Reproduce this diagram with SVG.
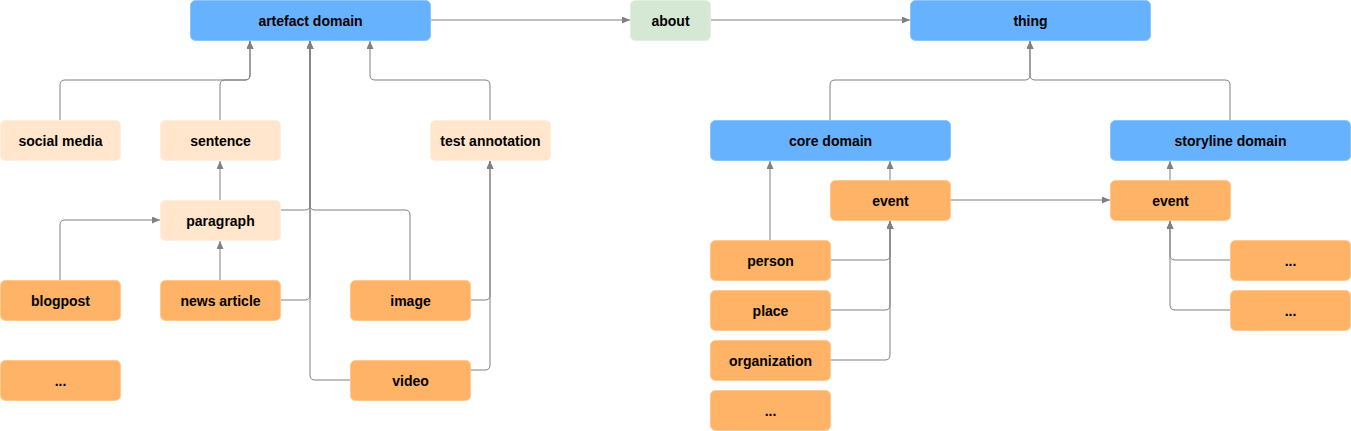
<svg xmlns="http://www.w3.org/2000/svg" width="1351" height="431" viewBox="0 0 1351 431">
<style>
.n rect{rx:5;ry:5;stroke-width:1}
.blue rect{fill:#66b2ff;stroke:#8cc4ff}
.green rect{fill:#d5e8d4;stroke:#e2efe1}
.light rect{fill:#ffe6cc;stroke:#ffeedd}
.orange rect{fill:#ffb366;stroke:#ffc98f}
.n text{font-family:"Liberation Sans",Arial,sans-serif;font-weight:bold;font-size:14px;fill:#000;text-anchor:middle}
#connectors path{fill:none;stroke:#808080;stroke-width:1;marker-end:url(#arr)}
</style>
<defs>
<marker id="arr" markerUnits="userSpaceOnUse" markerWidth="9" markerHeight="8" refX="8" refY="3.5" orient="auto">
<path d="M0,0 L8,3.5 L0,7 z" fill="#808080"/>
</marker>
</defs>
<rect width="1351" height="431" fill="#fff"/>
<g id="connectors">
<path d="M430,20 H630"/>
<path d="M710,20 H910"/>
<path d="M60,120 V85 Q60,80 65,80 H245 Q250,80 250,75 V41"/>
<path d="M220,120 V85 Q220,80 225,80 H245 Q250,80 250,75 V41"/>
<path d="M490,120 V85 Q490,80 485,80 H375 Q370,80 370,75 V41"/>
<path d="M280,210 H305 Q310,210 310,205 V41"/>
<path d="M410,280 V215 Q410,210 405,210 H315 Q310,210 310,205 V41"/>
<path d="M280,300 H305 Q310,300 310,295 V41"/>
<path d="M350,380 H315 Q310,380 310,375 V41"/>
<path d="M470,300 H485 Q490,300 490,295 V161"/>
<path d="M470,370 H485 Q490,370 490,365 V161"/>
<path d="M60,280 V225 Q60,220 65,220 H160"/>
<path d="M220,280 V241"/>
<path d="M220,200 V161"/>
<path d="M830,120 V85 Q830,80 835,80 H1025 Q1030,80 1030,75 V41"/>
<path d="M1230,120 V85 Q1230,80 1225,80 H1035 Q1030,80 1030,75 V41"/>
<path d="M890,180 V161"/>
<path d="M770,240 V161"/>
<path d="M830,260 H885 Q890,260 890,255 V221"/>
<path d="M830,310 H885 Q890,310 890,305 V221"/>
<path d="M830,360 H885 Q890,360 890,355 V221"/>
<path d="M950,200 H1110"/>
<path d="M1170,180 V161"/>
<path d="M1230,260 H1175 Q1170,260 1170,255 V221"/>
<path d="M1230,310 H1175 Q1170,310 1170,305 V221"/>
</g>
<g id="artefact-domain" class="n blue"><rect x="190.5" y="0.5" width="240" height="40"/><text x="310.5" y="25.5">artefact domain</text></g>
<g id="about" class="n green"><rect x="630.5" y="0.5" width="80" height="40"/><text x="670.5" y="25.5">about</text></g>
<g id="thing" class="n blue"><rect x="910.5" y="0.5" width="240" height="40"/><text x="1030.5" y="25.5">thing</text></g>
<g id="social-media" class="n light"><rect x="0.5" y="120.5" width="120" height="40"/><text x="60.5" y="145.5">social media</text></g>
<g id="sentence" class="n light"><rect x="160.5" y="120.5" width="120" height="40"/><text x="220.5" y="145.5">sentence</text></g>
<g id="test-annotation" class="n light"><rect x="430.5" y="120.5" width="120" height="40"/><text x="490.5" y="145.5">test annotation</text></g>
<g id="paragraph" class="n light"><rect x="160.5" y="200.5" width="120" height="40"/><text x="220.5" y="225.5">paragraph</text></g>
<g id="blogpost" class="n orange"><rect x="0.5" y="280.5" width="120" height="40"/><text x="60.5" y="305.5">blogpost</text></g>
<g id="news-article" class="n orange"><rect x="160.5" y="280.5" width="120" height="40"/><text x="220.5" y="305.5">news article</text></g>
<g id="image" class="n orange"><rect x="350.5" y="280.5" width="120" height="40"/><text x="410.5" y="305.5">image</text></g>
<g id="more-artefact" class="n orange"><rect x="0.5" y="360.5" width="120" height="40"/><text x="60.5" y="385.5">...</text></g>
<g id="video" class="n orange"><rect x="350.5" y="360.5" width="120" height="40"/><text x="410.5" y="385.5">video</text></g>
<g id="core-domain" class="n blue"><rect x="710.5" y="120.5" width="240" height="40"/><text x="830.5" y="145.5">core domain</text></g>
<g id="storyline-domain" class="n blue"><rect x="1110.5" y="120.5" width="240" height="40"/><text x="1230.5" y="145.5">storyline domain</text></g>
<g id="core-event" class="n orange"><rect x="830.5" y="180.5" width="120" height="40"/><text x="890.5" y="205.5">event</text></g>
<g id="storyline-event" class="n orange"><rect x="1110.5" y="180.5" width="120" height="40"/><text x="1170.5" y="205.5">event</text></g>
<g id="person" class="n orange"><rect x="710.5" y="240.5" width="120" height="40"/><text x="770.5" y="265.5">person</text></g>
<g id="place" class="n orange"><rect x="710.5" y="290.5" width="120" height="40"/><text x="770.5" y="315.5">place</text></g>
<g id="organization" class="n orange"><rect x="710.5" y="340.5" width="120" height="40"/><text x="770.5" y="365.5">organization</text></g>
<g id="more-core" class="n orange"><rect x="710.5" y="390.5" width="120" height="40"/><text x="770.5" y="415.5">...</text></g>
<g id="more-storyline-1" class="n orange"><rect x="1230.5" y="240.5" width="120" height="40"/><text x="1290.5" y="265.5">...</text></g>
<g id="more-storyline-2" class="n orange"><rect x="1230.5" y="290.5" width="120" height="40"/><text x="1290.5" y="315.5">...</text></g>
</svg>
